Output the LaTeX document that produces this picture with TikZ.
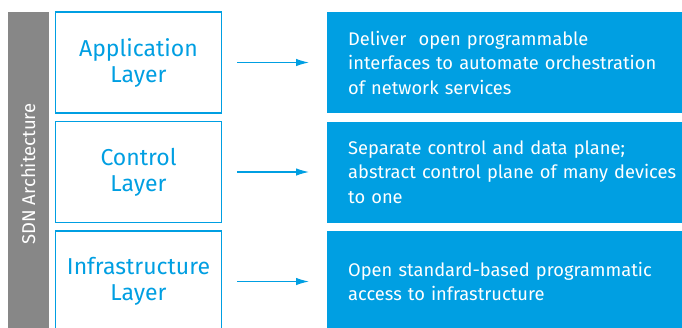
\documentclass[tikz,border=0pt]{standalone}
\usepackage{fontspec}
\usetikzlibrary{arrows.meta}
\setmainfont{Fira Sans}
\definecolor{hpblue}{RGB}{0,159,226}
\definecolor{bargray}{RGB}{135,135,135}
\begin{document}
\begin{tikzpicture}[x=1pt,y=-1pt,>={Latex[length=13pt,width=7.5pt]},
	layerbox/.style={draw=hpblue,line width=1.2pt,fill=white,minimum width=166pt,minimum height=101pt,
		align=center,text=hpblue,font=\fontsize{23}{26}\selectfont,inner sep=0pt},
	descbox/.style={anchor=west,fill=hpblue,minimum height=101pt,text width=334pt,
		align=left,text=white,font=\fontsize{18.3}{24.5}\selectfont,inner xsep=21pt,inner ysep=0pt},
	sidebar/.style={fill=bargray,minimum width=41pt,minimum height=321pt,inner sep=0pt},
	layerarrow/.style={->,draw=hpblue,fill=hpblue,line width=1.2pt}]
	
	\useasboundingbox (0,0) rectangle (682,327);
	\clip (0,0) rectangle (682,327);
	
	% grey side bar
	\node[sidebar] (bar) at (28.5,172.5) {};
	\node[rotate=90,text=white,font=\fontsize{18.5}{21}\selectfont] (bartext) at (28,174) {SDN Architecture};
	
	% layers
	\node[layerbox] (app)   at (138.5,62.5)  {Application\\Layer};
	\node[layerbox] (ctrl)  at (138.5,172)   {Control\\Layer};
	\node[layerbox] (infra) at (138.5,281.5) {Infrastructure\\Layer};
	
	% descriptions (right edge runs off the page)
	\node[descbox] (appdesc)   at (327,62.5)  {Deliver~ open programmable\\interfaces to automate orchestration\\of network services};
	\node[descbox] (ctrldesc)  at (327,172)   {Separate control and data plane;\\abstract control plane of many devices\\to one};
	\node[descbox] (infradesc) at (327,281.5) {Open standard-based programmatic\\access to infrastructure};
	
	% arrows between them
	\coordinate (a1) at (237,62.5);  \coordinate (b1) at (309,62.5);
	\coordinate (a2) at (237,172);   \coordinate (b2) at (309,172);
	\coordinate (a3) at (237,281.5); \coordinate (b3) at (309,281.5);
	\draw[layerarrow] (a1) -- (b1);
	\draw[layerarrow] (a2) -- (b2);
	\draw[layerarrow] (a3) -- (b3);
\end{tikzpicture}
\end{document}
